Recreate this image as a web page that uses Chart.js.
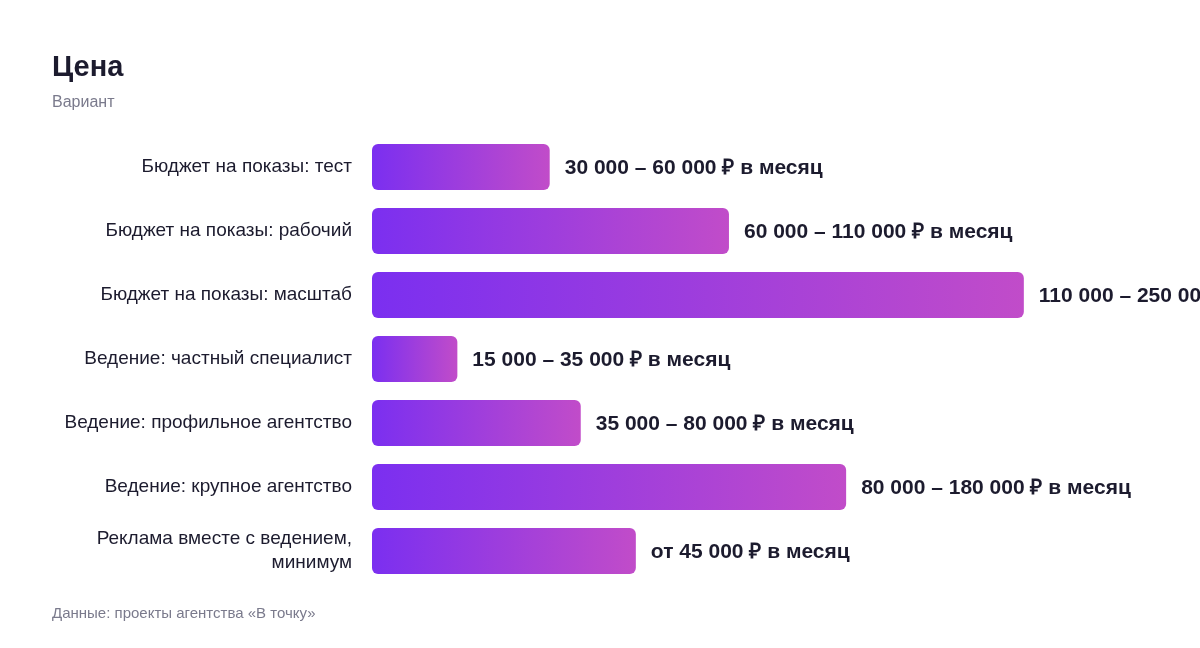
<!DOCTYPE html>
<html lang="ru">
<head>
<meta charset="utf-8">
<title>Цена</title>
<script src="https://cdn.jsdelivr.net/npm/chart.js@4/dist/chart.umd.min.js"></script>
<style>
  html, body { margin: 0; padding: 0; background: #ffffff; }
  body { width: 1200px; height: 648px; position: relative; overflow: hidden;
         font-family: "Liberation Sans", Arial, Helvetica, sans-serif; }
  #chartWrap { position: absolute; left: 0; top: 0; width: 1200px; height: 648px; }
  .title { position: absolute; left: 52px; top: 50px; font-size: 29px; font-weight: bold; color: #1c1b2e; }
  .subtitle { position: absolute; left: 52px; top: 93px; font-size: 16px; color: #7a7a8c; }
  .footer { position: absolute; left: 52px; top: 604px; font-size: 15px; color: #7a7a8c; }
</style>
</head>
<body>
<div id="chartWrap"><canvas id="priceChart" width="1200" height="648"></canvas></div>
<div class="title">Цена</div>
<div class="subtitle">Вариант</div>
<div class="footer">Данные: проекты агентства «В точку»</div>

<script>
// Categories (y axis)
const categories = [
    'Бюджет на показы: тест',
    'Бюджет на показы: рабочий',
    'Бюджет на показы: масштаб',
    'Ведение: частный специалист',
    'Ведение: профильное агентство',
    'Ведение: крупное агентство',
    ['Реклама вместе с ведением,', 'минимум']
];

// Bar lengths (relative scale 0-100)
const barValues = [22.9, 46.0, 84.0, 11.0, 26.9, 61.1, 34.0];

// Text shown at the end of each bar
const valueLabels = [
    '30 000 – 60 000 ₽ в месяц',
    '60 000 – 110 000 ₽ в месяц',
    '110 000 – 250 000 ₽ в месяц',
    '15 000 – 35 000 ₽ в месяц',
    '35 000 – 80 000 ₽ в месяц',
    '80 000 – 180 000 ₽ в месяц',
    'от 45 000 ₽ в месяц'
];

const scaleMax = 100;

document.addEventListener('DOMContentLoaded', () => {
    const FONT = '"Liberation Sans", Arial, Helvetica, sans-serif';

    // Gradient for each bar, from its start to its end
    function barGradient(context) {
        const chart = context.chart;
        if (!chart.chartArea || context.dataIndex === undefined) return '#7b2ff0';
        const xScale = chart.scales.x;
        const x0 = xScale.getPixelForValue(0);
        const x1 = xScale.getPixelForValue(barValues[context.dataIndex]);
        const g = chart.ctx.createLinearGradient(x0, 0, x1, 0);
        g.addColorStop(0, '#7b2ff0');
        g.addColorStop(1, '#c14cc9');
        return g;
    }

    // Draw the value text to the right of each bar
    const valueLabelPlugin = {
        id: 'valueLabels',
        afterDatasetsDraw(chart) {
            const ctx = chart.ctx;
            const meta = chart.getDatasetMeta(0);
            ctx.save();
            ctx.font = 'bold 21px ' + FONT;
            ctx.fillStyle = '#1c1b2e';
            ctx.textAlign = 'left';
            ctx.textBaseline = 'middle';
            meta.data.forEach((bar, i) => {
                ctx.fillText(valueLabels[i], bar.x + 15, bar.y + 1);
            });
            ctx.restore();
        }
    };

    const ctx = document.getElementById('priceChart').getContext('2d');
    new Chart(ctx, {
        type: 'bar',
        data: {
            labels: categories,
            datasets: [{
                label: 'Цена',
                data: barValues,
                backgroundColor: barGradient,
                borderRadius: 6,
                borderSkipped: false,
                barPercentage: 0.72,
                categoryPercentage: 1
            }]
        },
        options: {
            indexAxis: 'y',
            responsive: false,
            animation: false,
            devicePixelRatio: 1,
            layout: { padding: { top: 135, bottom: 65, left: 0, right: 52 } },
            scales: {
                x: {
                    display: false,
                    min: 0,
                    max: scaleMax
                },
                y: {
                    grid: { display: false, drawTicks: false },
                    border: { display: false },
                    ticks: {
                        color: '#1c1b2e',
                        font: { family: FONT, size: 19, lineHeight: 1.25 },
                        padding: 20
                    },
                    afterFit(axis) { axis.width = 372; }
                }
            },
            plugins: {
                legend: { display: false },
                tooltip: { enabled: false }
            }
        },
        plugins: [valueLabelPlugin]
    });
});
</script>
</body>
</html>
